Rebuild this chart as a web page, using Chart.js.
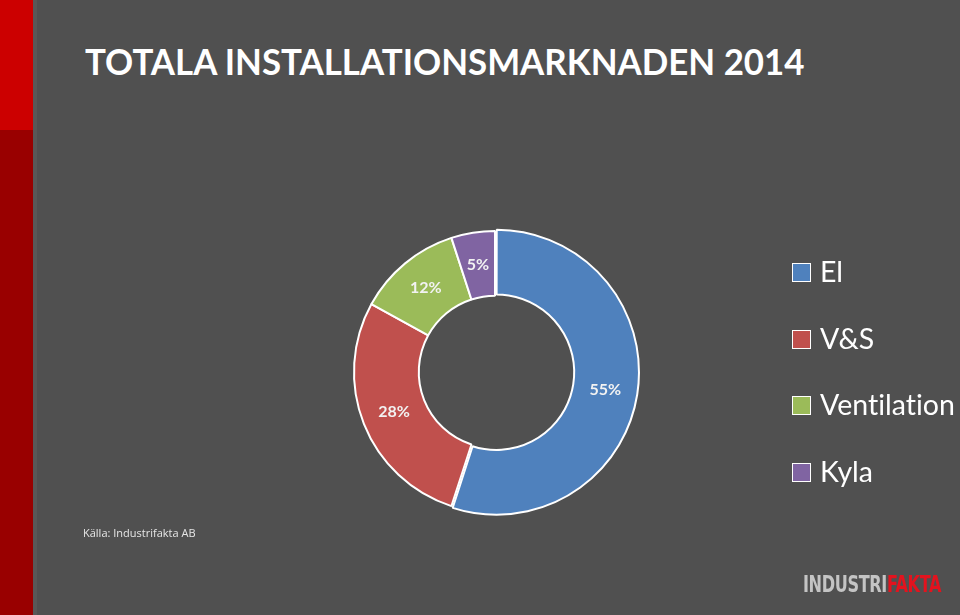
<!DOCTYPE html>
<html>
<head>
<meta charset="utf-8">
<script src="https://cdn.jsdelivr.net/npm/chart.js@4"></script>
<style>
  html, body { margin: 0; padding: 0; }
  body { width: 960px; height: 615px; background: #505050; position: relative; overflow: hidden; font-family: Lato, "Open Sans", sans-serif; font-variant-ligatures: none; }
  .strip-top { position: absolute; left: 0; top: 0; width: 33px; height: 130px; background: #cc0000; }
  .strip-bot { position: absolute; left: 0; top: 130px; width: 33px; height: 485px; background: #990000; }
  .strip-line { position: absolute; left: 33px; top: 0; width: 4px; height: 615px; background: #585858; }
  #title { position: absolute; left: 85px; top: 42px; color: #fff; font-weight: bold; font-size: 37px; white-space: nowrap; transform-origin: 0 0; line-height: 1; }
  #chartBox { position: absolute; left: 0; top: 0; width: 960px; height: 615px; }
  #legend { position: absolute; left: 792px; top: 0; }
  .item { position: absolute; left: 0; height: 30px; white-space: nowrap; color: #fff; font-size: 28.5px; }
  .item .box { position: absolute; left: 0; top: 5px; width: 17px; height: 17px; border: 1.5px solid #fff; }
  .item span { position: absolute; left: 28px; top: -4px; }
  #source { position: absolute; left: 83px; top: 525px; color: #e6e6e6; font-size: 11px; font-family: "Open Sans", sans-serif; }
  #logo { position: absolute; left: 803px; top: 573px; font-family: "Liberation Sans Narrow", "DejaVu Sans Condensed", sans-serif; font-weight: bold; font-size: 24px; white-space: nowrap; transform-origin: 0 0; line-height: 1; letter-spacing: -0.5px; }
  #logo .a { color: #c4c4c4; }
  #logo .b { color: #e3131e; }
</style>
</head>
<body>
<div class="strip-top"></div>
<div class="strip-bot"></div>
<div class="strip-line"></div>
<div id="title">TOTALA INSTALLATIONSMARKNADEN 2014</div>
<div id="chartBox"><canvas id="marketChart" width="960" height="615"></canvas></div>
<div id="legend"></div>
<div id="source">Källa: Industrifakta AB</div>
<div id="logo"><span class="a">INDUSTRI</span><span class="b">FAKTA</span></div>
<script>
// Totala installationsmarknaden 2014, andel i procent
const categories = ["El", "V&S", "Ventilation", "Kyla"];
const shares = [55, 28, 12, 5];
const colors = ["#4f81bd", "#c0504d", "#9bbb59", "#8064a2"];

// procentetiketter mitt i varje segment
const percentLabels = {
  id: "percentLabels",
  afterDatasetsDraw(chart) {
    const ctx = chart.ctx;
    const meta = chart.getDatasetMeta(0);
    const total = shares.reduce((a, b) => a + b, 0);
    ctx.save();
    ctx.fillStyle = "#f2f2f2";
    ctx.font = "bold 16px Lato, 'Open Sans', sans-serif";
    ctx.textAlign = "center";
    ctx.textBaseline = "middle";
    meta.data.forEach((arc, i) => {
      const p = arc.getCenterPoint();
      ctx.fillText(Math.round(shares[i] / total * 100) + "%", p.x, p.y);
    });
    ctx.restore();
  },
};

const marketChartConfig = {
  type: "doughnut",
  data: {
    labels: categories,
    datasets: [
      {
        data: shares,
        backgroundColor: colors,
        borderColor: "#ffffff",
        borderWidth: 2,
        offset: [6, 0, 0, 0],
      },
    ],
  },
  options: {
    responsive: false,
    animation: false,
    radius: 141,
    cutout: 80,
    layout: {
      padding: { left: 330, right: 300, top: 220, bottom: 91 },
    },
    plugins: {
      legend: { display: false },
      tooltip: { enabled: false },
    },
  },
  plugins: [percentLabels],
};

document.addEventListener("DOMContentLoaded", () => {
  // titeln och logon anpassas till bredden i originalet
  const title = document.getElementById("title");
  title.style.transform = "scaleX(" + (720 / title.offsetWidth) + ")";
  const logo = document.getElementById("logo");
  logo.style.transform = "scale(" + (138 / logo.offsetWidth) + ", 0.95)";

  const legend = document.getElementById("legend");
  categories.forEach((c, i) => {
    const item = document.createElement("div");
    item.className = "item";
    item.style.top = (258 + i * 66.5) + "px";
    const box = document.createElement("div");
    box.className = "box";
    box.style.background = colors[i];
    const txt = document.createElement("span");
    txt.textContent = c;
    item.appendChild(box);
    item.appendChild(txt);
    legend.appendChild(item);
  });

  const marketChart = new Chart("marketChart", marketChartConfig);
});
</script>
</body>
</html>
